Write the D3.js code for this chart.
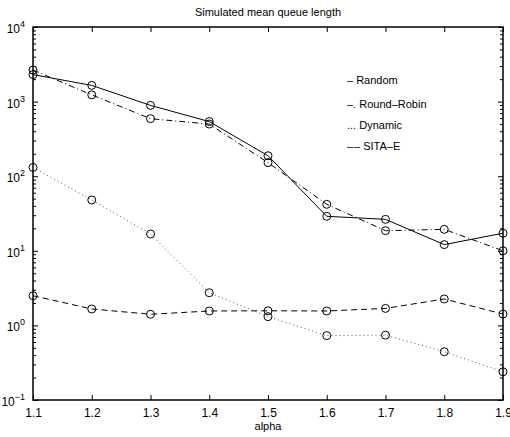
<!DOCTYPE html>
<html>
<head>
<meta charset="utf-8">
<script src="https://cdn.jsdelivr.net/npm/d3@7"></script>
<style>
  body { margin: 0; background: #fff; }
  svg text { font-family: "Liberation Sans", Arial, sans-serif; fill: #000; }
</style>
</head>
<body>
<div id="chart"></div>
<script>
// data
const alphas = [1.1, 1.2, 1.3, 1.4, 1.5, 1.6, 1.7, 1.8, 1.9];
const randomQ = [2300, 1650, 890, 540, 188, 29, 26.4, 12.1, 17.2];
const roundRobinQ = [2650, 1230, 590, 500, 152, 42, 18.6, 19.4, 10];
const dynamicQ = [131, 48, 16.8, 2.74, 1.31, 0.73, 0.74, 0.444, 0.239];
const sitaQ = [2.5, 1.66, 1.41, 1.56, 1.57, 1.56, 1.69, 2.26, 1.42];
const xTicks = [1.1, 1.2, 1.3, 1.4, 1.5, 1.6, 1.7, 1.8, 1.9];
const yExps = [-1, 0, 1, 2, 3, 4];
const legendLabels = ["\u2013 Random", "\u2013. Round\u2013Robin", "... Dynamic", "\u2013\u200a\u2013 SITA\u2013E"];

const W = 510, H = 437;
const margin = {top: 27, right: 7, bottom: 37, left: 33};
const width = W - margin.left - margin.right;
const height = H - margin.top - margin.bottom;

const svg = d3.select("#chart")
  .append("svg")
    .attr("width", W)
    .attr("height", H);

const g = svg.append("g")
    .attr("transform", `translate(${margin.left}, ${margin.top})`);

const x = d3.scaleLinear().domain([1.1, 1.9]).range([0, width]);
const y = d3.scaleLog().domain([0.1, 1e4]).range([height, 0]);

// minor log ticks
const minor = [];
yExps.slice(0, -1).forEach(e => {
  for (let k = 2; k <= 9; k++) minor.push(k * Math.pow(10, e));
});

// bottom axis
g.append("g")
    .attr("transform", `translate(0, ${height})`)
    .call(d3.axisBottom(x).tickValues(xTicks).tickFormat(d3.format(".1f"))
      .tickSizeInner(-5).tickSizeOuter(0).tickPadding(8))
    .call(a => a.select(".domain").remove())
    .selectAll("text").style("font-size", "12px");

// top axis (ticks only)
g.append("g")
    .call(d3.axisTop(x).tickValues(xTicks).tickFormat("")
      .tickSizeInner(-5).tickSizeOuter(0))
    .call(a => a.select(".domain").remove());

// left axis majors + minors
g.append("g")
    .call(d3.axisLeft(y).tickValues(yExps.map(e => Math.pow(10, e))).tickFormat("")
      .tickSizeInner(-5).tickSizeOuter(0))
    .call(a => a.select(".domain").remove());
g.append("g")
    .call(d3.axisLeft(y).tickValues(minor).tickFormat("").tickSizeInner(-3).tickSizeOuter(0))
    .call(a => a.select(".domain").remove());

// right axis
g.append("g")
    .attr("transform", `translate(${width}, 0)`)
    .call(d3.axisRight(y).tickValues(yExps.map(e => Math.pow(10, e))).tickFormat("")
      .tickSizeInner(-5).tickSizeOuter(0))
    .call(a => a.select(".domain").remove());
g.append("g")
    .attr("transform", `translate(${width}, 0)`)
    .call(d3.axisRight(y).tickValues(minor).tickFormat("").tickSizeInner(-3).tickSizeOuter(0))
    .call(a => a.select(".domain").remove());

// y labels 10^n
const ylab = g.append("g").selectAll("text")
  .data(yExps)
  .join("text")
    .attr("x", -8)
    .attr("y", d => y(Math.pow(10, d)) + 6)
    .attr("text-anchor", "end")
    .style("font-size", "12px");
ylab.append("tspan").text("10");
ylab.append("tspan")
    .attr("dy", -6)
    .style("font-size", "9px")
    .text(d => d < 0 ? "\u2212" + Math.abs(d) : d);

// box
g.append("rect")
    .attr("width", width)
    .attr("height", height)
    .attr("fill", "none")
    .attr("stroke", "#000")
    .attr("stroke-width", 1.5);

const series = [
  {values: randomQ, dash: null, color: "#000"},
  {values: roundRobinQ, dash: "6,3,1,3", color: "#000"},
  {values: dynamicQ, dash: "1,3", color: "#555"},
  {values: sitaQ, dash: "6,4", color: "#000"}
];

const line = d3.line()
  .x((d, i) => x(alphas[i]))
  .y(d => y(d));

series.forEach(s => {
  g.append("path")
      .datum(s.values)
      .attr("d", line)
      .attr("fill", "none")
      .attr("stroke", s.color)
      .attr("stroke-width", 1)
      .attr("stroke-dasharray", s.dash);
  g.append("g").selectAll("circle")
    .data(s.values)
    .join("circle")
      .attr("cx", (d, i) => x(alphas[i]))
      .attr("cy", d => y(d))
      .attr("r", 4)
      .attr("fill", "none")
      .attr("stroke", "#000")
      .attr("stroke-width", 1);
});

// legend
g.append("g").selectAll("text")
  .data(legendLabels)
  .join("text")
    .attr("x", 314)
    .attr("y", (d, i) => 57 + i * 21 + (i > 0 ? 3 : 0))
    .style("font-size", "11px")
    .text(d => d);

// title
svg.append("text")
    .attr("x", margin.left + width / 2)
    .attr("y", 16)
    .attr("text-anchor", "middle")
    .style("font-size", "11px")
    .text("Simulated mean queue length");

// x label
svg.append("text")
    .attr("x", margin.left + width / 2)
    .attr("y", 430)
    .attr("text-anchor", "middle")
    .style("font-size", "11px")
    .text("alpha");
</script>
</body>
</html>
